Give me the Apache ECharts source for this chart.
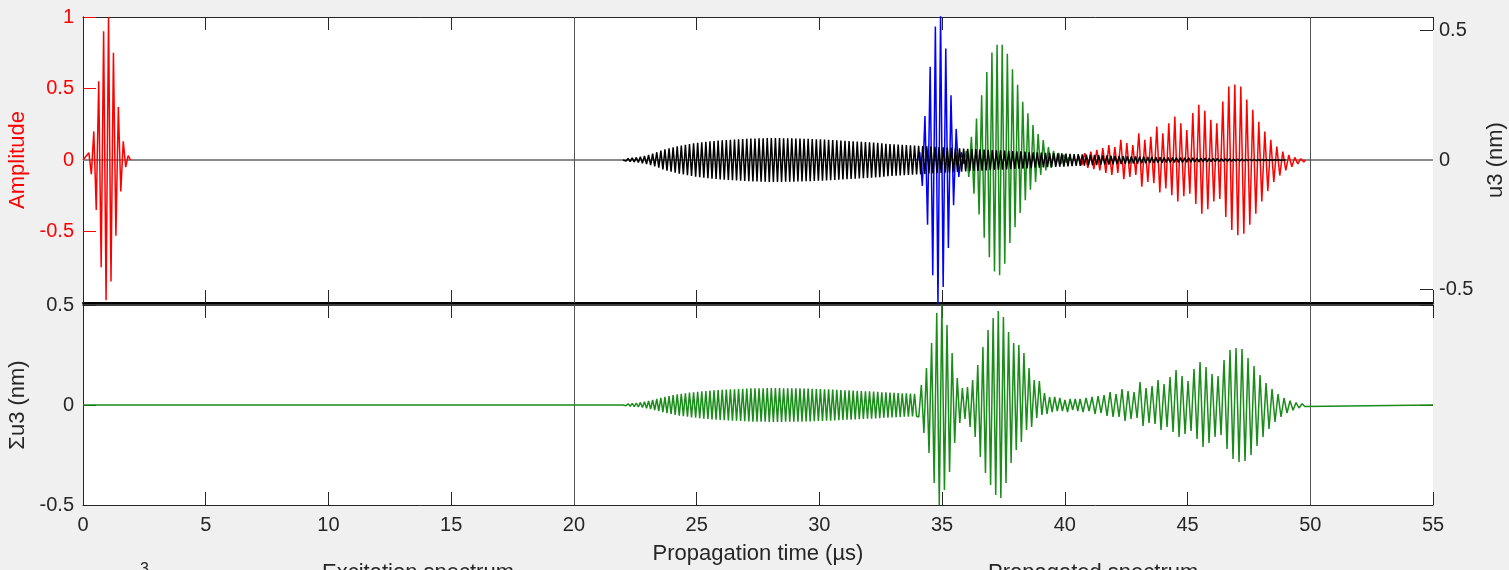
<!DOCTYPE html>
<html><head><meta charset="utf-8">
<script src="https://cdn.jsdelivr.net/npm/echarts@6/dist/echarts.min.js"></script>
<style>html,body{margin:0;padding:0;background:#f0f0f0;}#c{width:1509px;height:570px;}</style>
</head><body><div id="c"></div>
<script>
// ---- axis ticks / reference lines ----
const xTicksMin = 0, xTicksMax = 55, xTickStep = 5;
const ampTicks = [-1, -0.5, 0, 0.5, 1];
const u3Ticks = [-0.5, 0, 0.5];
const u3Range = [-0.552, 0.552];
const sumTicks = [-0.5, 0, 0.5];
const refTimes = [20, 50];

// ---- excitation pulse (Amplitude, left axis): successive extrema ----
const excStart = 0.24, excStep = 0.1;
const excPeaks = [0.05, -0.10, 0.20, -0.35, 0.55, -0.75, 0.90, -0.98, 1.0, -0.85, 0.75, -0.53, 0.37, -0.22, 0.13, -0.05, 0.03];

// ---- black mode (u3, nm): peak amplitude of each cycle ----
const blackStart = 22.0, blackPeriod = 0.1667;
const blackAmp = [
 0.004,0.006,0.008,0.010,0.013,0.016, 0.020,0.025,0.030,0.036,0.041,0.045,
 0.049,0.053,0.056,0.059,0.062,0.064, 0.066,0.068,0.070,0.072,0.073,0.075,
 0.076,0.077,0.078,0.079,0.080,0.081, 0.082,0.083,0.083,0.084,0.084,0.085,
 0.085,0.085,0.085,0.084,0.084,0.084, 0.083,0.083,0.082,0.082,0.081,0.080,
 0.080,0.079,0.078,0.077,0.076,0.075, 0.074,0.073,0.072,0.071,0.070,0.069,
 0.068,0.067,0.066,0.064,0.063,0.062, 0.061,0.060,0.059,0.058,0.057,0.056,
 0.055,0.054,0.053,0.052,0.051,0.050, 0.049,0.048,0.047,0.046,0.045,0.044,
 0.043,0.042,0.042,0.041,0.040,0.039, 0.038,0.037,0.037,0.036,0.035,0.034,
 0.033,0.033,0.032,0.031,0.030,0.030, 0.029,0.028,0.028,0.027,0.026,0.026,
 0.025,0.024,0.023,0.023,0.022,0.021, 0.020,0.020,0.019,0.018,0.018,0.017,
 0.016,0.016,0.015,0.015,0.014,0.014, 0.013,0.013,0.012,0.012,0.011,0.011,
 0.010,0.010,0.009,0.009,0.009,0.008, 0.008,0.008,0.007,0.007,0.007,0.006,
 0.006,0.006,0.005,0.005,0.005,0.004, 0.004,0.004,0.003,0.003,0.003,0.002,
 0.002,0.002,0.001,0.001,0.001,0.000];

// ---- blue mode: successive extrema ----
const blueStart = 34.09, blueStep = 0.106;
const bluePeaks = [0.03, -0.10, 0.17, -0.25, 0.36, -0.445, 0.515, -0.56, 0.56, -0.49, 0.43, -0.34, 0.25, -0.175, 0.12, -0.065, 0.03, -0.012];

// ---- green mode: successive extrema ----
const greenStart = 35.88, greenStep = 0.1046;
const greenPeaks = [-0.015, 0.035, -0.065, 0.09, -0.13, 0.16, -0.21, 0.25, -0.30, 0.34, -0.375, 0.415, -0.43, 0.445, -0.445, 0.445, -0.40, 0.41, -0.32, 0.35, -0.26, 0.29, -0.205, 0.225, -0.155, 0.18, -0.115, 0.135, -0.085, 0.10, -0.058, 0.077, -0.04, 0.05, -0.03, 0.035, -0.02, 0.027, -0.015, 0.02, -0.01, 0.01];

// ---- red late mode: per-cycle positive / negative peaks ----
const redStart = 40.51, redPeriod = 0.2444;
const redPos = [0.015,0.026,0.032,0.039,0.046,0.058,0.050,0.078,0.065,0.058,0.103,0.078,0.090,0.129,0.103,0.142,0.168,0.142,0.116,0.181,0.213,0.190,0.155,0.142,0.226,0.284,0.291,0.284,0.233,0.194,0.148,0.110,0.078,0.052,0.032,0.020,0.010,0.005];
const redNeg = [0.020,0.030,0.035,0.040,0.050,0.058,0.050,0.074,0.065,0.058,0.103,0.085,0.090,0.125,0.110,0.136,0.160,0.140,0.130,0.170,0.207,0.190,0.160,0.150,0.220,0.270,0.290,0.285,0.250,0.207,0.160,0.120,0.085,0.060,0.040,0.026,0.015,0.008];

// ---- summed signal (bottom panel) ----
const sumEarlyCycles = 72; // early part follows the black mode amplitudes
const sumMidStart = 34.05, sumMidStep = 0.1045;
const sumMidPeaks = [-0.06, 0.10, -0.14, 0.185, -0.24, 0.31, -0.39, 0.46, -0.50, 0.50, -0.425, 0.40, -0.335, 0.26, -0.19, 0.135, -0.09, 0.085, -0.07, 0.09,
 -0.11, 0.125, -0.16, 0.20, -0.26, 0.29, -0.34, 0.375, -0.40, 0.435, -0.45, 0.47, -0.465, 0.44, -0.39, 0.365, -0.29, 0.31, -0.225, 0.30,
 -0.185, 0.26, -0.125, 0.185, -0.11, 0.125, -0.065, 0.12, -0.05, 0.06,
 -0.045, 0.04, -0.035, 0.04, -0.03, 0.035, -0.03, 0.025, -0.035, 0.03, -0.025, 0.03, -0.03];
const sumLatePos = [0.030,0.035,0.040,0.045,0.050,0.065,0.055,0.080,0.070,0.065,0.115,0.085,0.095,0.125,0.105,0.140,0.175,0.145,0.120,0.180,0.215,0.190,0.155,0.145,0.225,0.275,0.285,0.280,0.235,0.195,0.150,0.110,0.080,0.055,0.035,0.022,0.012,0.006];
const sumLateNeg = [0.035,0.030,0.045,0.040,0.055,0.060,0.060,0.080,0.070,0.065,0.105,0.090,0.095,0.125,0.110,0.135,0.160,0.145,0.130,0.170,0.210,0.190,0.160,0.150,0.220,0.270,0.285,0.280,0.250,0.205,0.160,0.120,0.085,0.060,0.040,0.026,0.015,0.008];

// ---- builders ----
function extremaPts(start, step, vals) {
  return vals.map((v, i) => [start + i * step, v]);
}
function cyclePts(start, period, pos, neg) {
  const d = [];
  pos.forEach((a, i) => {
    d.push([start + (i + 0.25) * period, a]);
    d.push([start + (i + 0.75) * period, -neg[i]]);
  });
  return d;
}
function closed(pts, t0, t1) { return [[t0, 0]].concat(pts, [[t1, 0]]); }

const excData = closed(extremaPts(excStart, excStep, excPeaks), 0, excStart + excPeaks.length * excStep);
const blackData = closed(cyclePts(blackStart, blackPeriod, blackAmp, blackAmp), blackStart, blackStart + blackAmp.length * blackPeriod);
const blueData = closed(extremaPts(blueStart, blueStep, bluePeaks), blueStart - blueStep, blueStart + bluePeaks.length * blueStep);
const greenData = closed(extremaPts(greenStart, greenStep, greenPeaks), greenStart - greenStep, greenStart + greenPeaks.length * greenStep);
const redData = closed(cyclePts(redStart, redPeriod, redPos, redNeg), redStart, redStart + redPos.length * redPeriod);

const earlyAmp = blackAmp.slice(0, sumEarlyCycles);
const sumLateEnd = redStart + 0.05 + sumLatePos.length * redPeriod;
const sumData = [[xTicksMin, 0], [blackStart, 0]]
  .concat(cyclePts(blackStart, blackPeriod, earlyAmp, earlyAmp))
  .concat(extremaPts(sumMidStart, sumMidStep, sumMidPeaks))
  .concat(cyclePts(redStart + 0.05, redPeriod, sumLatePos, sumLateNeg))
  .concat([[sumLateEnd, 0], [xTicksMax, 0]]);

const FONT = "'Liberation Sans', Arial, sans-serif";
const AX = '#262626';
const GRID_LEFT = 83, GRID_RIGHT = 76, PLOT_W = 1509 - 83 - 76;
const tick = (color) => ({ show: true, inside: true, length: 13, lineStyle: { color: color, width: 1 } });

const xBase = (grid, pos, showLabel, lineStyle) => ({
  type: 'value', gridIndex: grid, position: pos, min: xTicksMin, max: xTicksMax, interval: xTickStep,
  axisLine: { show: true, onZero: false, lineStyle: lineStyle },
  axisTick: tick(AX), splitLine: { show: false },
  axisLabel: { show: showLabel, color: AX, fontSize: 20, fontFamily: FONT, margin: 10 }
});

// tick-only axis drawn at the right edge of a grid (ticks pointing into the plot)
const rightTickAxis = (grid, min, max, values) => ({
  type: 'value', gridIndex: grid, position: 'left', offset: -PLOT_W, min, max,
  axisLine: { show: false },
  axisTick: { show: true, inside: false, length: 13, customValues: values, lineStyle: { color: AX, width: 1 } },
  axisLabel: { show: false }, splitLine: { show: false }
});

const refLines = () => ({
  silent: true, symbol: ['none', 'none'], label: { show: false }, z: 1,
  lineStyle: { color: '#555555', width: 1, type: 'solid' },
  data: refTimes.map(t => ({ xAxis: t }))
});

const wave = (name, data, color, xi, yi, z, extra) => Object.assign({
  name, type: 'line', data, xAxisIndex: xi, yAxisIndex: yi, showSymbol: false, symbol: 'none',
  lineStyle: { color, width: 1.5 }, itemStyle: { color }, z, animation: false, silent: true
}, extra || {});

const option = {
  backgroundColor: '#f0f0f0',
  animation: false,
  grid: [
    { left: GRID_LEFT, right: GRID_RIGHT, top: 17, height: 286, show: true, backgroundColor: '#ffffff', borderWidth: 0, containLabel: false, outerBoundsMode: 'none' },
    { left: GRID_LEFT, right: GRID_RIGHT, top: 305, height: 200, show: true, backgroundColor: '#ffffff', borderWidth: 0, containLabel: false, outerBoundsMode: 'none' }
  ],
  xAxis: [
    xBase(0, 'bottom', false, { color: '#000000', width: 2 }),
    xBase(0, 'top', false, { color: AX, width: 1 }),
    Object.assign(xBase(1, 'bottom', true, { color: AX, width: 1 }), {
      name: 'Propagation time (µs)', nameLocation: 'middle', nameGap: 38,
      nameTextStyle: { color: AX, fontSize: 22, fontFamily: FONT }
    }),
    xBase(1, 'top', false, { color: '#000000', width: 1.5 })
  ],
  yAxis: [
    { type: 'value', gridIndex: 0, position: 'left', min: ampTicks[0], max: ampTicks[ampTicks.length - 1], interval: 0.5,
      axisLine: { show: true, lineStyle: { color: '#ff0000', width: 1 } }, axisTick: tick('#ff0000'), splitLine: { show: false },
      axisLabel: { color: '#ff0000', fontSize: 20, fontFamily: FONT, margin: 9, showMinLabel: false },
      name: 'Amplitude', nameLocation: 'middle', nameRotate: 90, nameGap: 48,
      nameTextStyle: { color: '#ff0000', fontSize: 22, fontFamily: FONT } },
    { type: 'value', gridIndex: 0, position: 'right', min: u3Range[0], max: u3Range[1],
      axisLine: { show: true, lineStyle: { color: AX, width: 1 } },
      axisTick: { show: false }, splitLine: { show: false },
      axisLabel: { color: AX, fontSize: 20, fontFamily: FONT, margin: 6, customValues: u3Ticks },
      name: 'u3 (nm)', nameLocation: 'middle', nameRotate: 90, nameGap: 52,
      nameTextStyle: { color: AX, fontSize: 22, fontFamily: FONT } },
    { type: 'value', gridIndex: 1, position: 'left', min: sumTicks[0], max: sumTicks[2], interval: 0.5,
      axisLine: { show: true, lineStyle: { color: AX, width: 1 } }, axisTick: tick(AX), splitLine: { show: false },
      axisLabel: { color: AX, fontSize: 20, fontFamily: FONT, margin: 9 },
      name: 'Σu3 (nm)', nameLocation: 'middle', nameRotate: 90, nameGap: 48,
      nameTextStyle: { color: AX, fontSize: 22, fontFamily: FONT } },
    { type: 'value', gridIndex: 1, position: 'right', min: sumTicks[0], max: sumTicks[2], interval: 0.5,
      axisLine: { show: true, lineStyle: { color: AX, width: 1 } }, axisTick: { show: false }, splitLine: { show: false },
      axisLabel: { show: false } },
    rightTickAxis(0, u3Range[0], u3Range[1], u3Ticks),
    rightTickAxis(1, sumTicks[0], sumTicks[2], sumTicks)
  ],
  series: [
    { type: 'line', data: [], xAxisIndex: 0, yAxisIndex: 1, z: 1, silent: true,
      markLine: { silent: true, symbol: ['none', 'none'], label: { show: false }, z: 1,
        data: [{ yAxis: 0, lineStyle: { color: '#8a8a8a', width: 2, type: 'solid' } }].concat(
          refTimes.map(t => ({ xAxis: t, lineStyle: { color: '#555555', width: 1, type: 'solid' } }))) } },
    wave('red mode', redData, '#ff0000', 0, 1, 2),
    wave('green mode', greenData, '#1a8c1a', 0, 1, 3),
    wave('blue mode', blueData, '#0000ff', 0, 1, 4),
    wave('black mode', blackData, '#000000', 0, 1, 5),
    wave('excitation', excData, '#ff0000', 0, 0, 6),
    wave('sum', sumData, '#1a8c1a', 2, 2, 3, { markLine: refLines() })
  ],
  graphic: [
    { type: 'text', left: 140, top: 562, style: { text: '3', fontSize: 16, fontFamily: FONT, fill: AX } },
    { type: 'text', left: 322, top: 562, style: { text: 'Excitation spectrum', fontSize: 22, fontFamily: FONT, fill: AX } },
    { type: 'text', left: 988, top: 562, style: { text: 'Propagated spectrum', fontSize: 22, fontFamily: FONT, fill: AX } }
  ]
};
const chart = echarts.init(document.getElementById('c'), null, { renderer: 'canvas' });
chart.setOption(option);
</script></body></html>
